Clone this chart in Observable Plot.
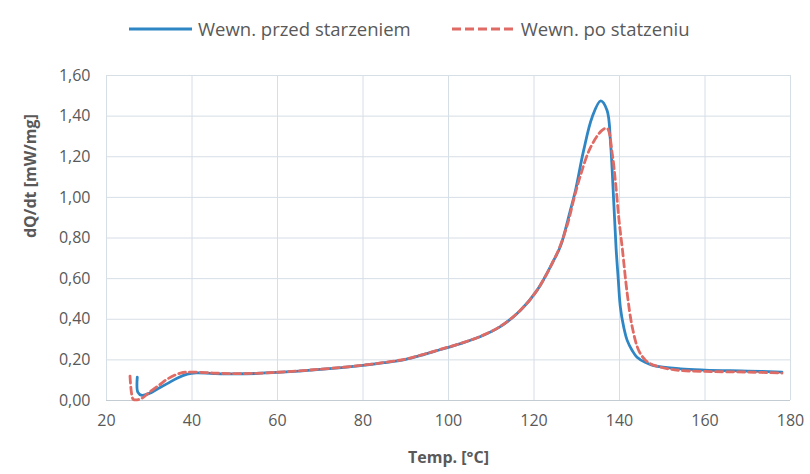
<!DOCTYPE html>
<html>
<head>
<meta charset="utf-8">
<script src="https://cdn.jsdelivr.net/npm/d3@7"></script>
<script src="https://cdn.jsdelivr.net/npm/@observablehq/plot@0.6"></script>
<style>
  html, body { margin: 0; padding: 0; background: #fff; }
  #wrap { width: 810px; font-family: "Open Sans", sans-serif; color: #595959; }
  #legend { height: 55px; display: flex; align-items: center; padding-left: 128px; padding-top: 2px; font-size: 18.5px; box-sizing: border-box; }
  .item { display: flex; align-items: center; gap: 5px; margin-right: 40px; }
</style>
</head>
<body>
<div id="wrap">
  <div id="legend"></div>
  <div id="chart"></div>
</div>
<script>
const seriesNames = ["Wewn. przed starzeniem", "Wewn. po statzeniu"];
const seriesColors = ["#2f86c4", "#df6b64"];
const xTicks = [20, 40, 60, 80, 100, 120, 140, 160, 180];
const yTicks = [0, 0.2, 0.4, 0.6, 0.8, 1.0, 1.2, 1.4, 1.6];

const tempBlue = [27.2, 27.35, 28.3, 30, 32, 34.2, 36.5, 38.9, 41, 45, 50, 55, 60, 65, 70, 75, 80, 85, 90, 93.5, 98, 102.8, 107.5, 112.2, 116.8, 120.7, 124.6, 126.2, 128.5, 129.7, 131.6, 133.6, 135.6, 137.1, 137.9, 138.6, 139.2, 139.7, 140.2, 141, 141.8, 143, 144.1, 146, 148, 154.3, 160, 170, 178];
const valueBlue = [0.115, 0.04, 0.025, 0.035, 0.058, 0.083, 0.11, 0.13, 0.136, 0.133, 0.131, 0.133, 0.138, 0.145, 0.153, 0.162, 0.173, 0.186, 0.203, 0.222, 0.25, 0.28, 0.315, 0.365, 0.443, 0.542, 0.69, 0.76, 0.936, 1.034, 1.23, 1.395, 1.475, 1.428, 1.27, 1.0, 0.75, 0.6, 0.46, 0.36, 0.296, 0.245, 0.213, 0.188, 0.172, 0.156, 0.15, 0.145, 0.14];

const tempRed = [25.5, 25.9, 26.3, 28, 30, 32.6, 34.2, 37.3, 40, 45, 50, 55, 60, 65, 70, 75, 80, 85, 90, 93.5, 98, 102.8, 107.5, 112.2, 116.8, 120.7, 124.6, 126.2, 128, 129.3, 130.9, 133.2, 135.9, 137.1, 138.3, 139.1, 139.9, 140.7, 141.8, 143, 144.5, 146, 147.3, 151.1, 154.3, 160, 170, 178];
const valueRed = [0.12, 0.03, 0.005, 0.008, 0.04, 0.08, 0.105, 0.135, 0.14, 0.135, 0.132, 0.134, 0.139, 0.146, 0.154, 0.163, 0.174, 0.187, 0.204, 0.223, 0.251, 0.281, 0.316, 0.366, 0.444, 0.542, 0.69, 0.765, 0.88, 0.99, 1.11, 1.245, 1.33, 1.34, 1.215, 1.067, 0.886, 0.74, 0.527, 0.36, 0.246, 0.2, 0.18, 0.157, 0.148, 0.143, 0.14, 0.135];

const blue = tempBlue.map((t, i) => ({t, v: valueBlue[i]}));
const red = tempRed.map((t, i) => ({t, v: valueRed[i]}));

// legend
const legend = document.getElementById("legend");
seriesNames.forEach((name, i) => {
  const item = document.createElement("div");
  item.className = "item";
  const dash = i === 1 ? 'stroke-dasharray="9,4"' : '';
  item.innerHTML = `<svg width="65" height="10"><line x1="1" y1="5" x2="64" y2="5" stroke="${seriesColors[i]}" stroke-width="3" ${dash}/></svg><span>${name}</span>`;
  legend.appendChild(item);
});

const fmt = d => d.toFixed(2).replace(".", ",");

const chart = Plot.plot({
  width: 810,
  height: 419,
  marginTop: 20,
  marginBottom: 74,
  marginLeft: 106,
  marginRight: 20,
  style: { fontFamily: "Open Sans, sans-serif", fontSize: "16px", color: "#595959", background: "#fff" },
  x: { domain: [20, 180], ticks: xTicks, label: null },
  y: { domain: [0, 1.6], ticks: yTicks, label: null },
  marks: [
    Plot.gridX(xTicks, { stroke: "#d6dee6", strokeOpacity: 1 }),
    Plot.gridY(yTicks, { stroke: "#d6dee6", strokeOpacity: 1 }),
    Plot.ruleY([0], { stroke: "#c3cbd3" }),
    Plot.line(blue, { x: "t", y: "v", stroke: seriesColors[0], strokeWidth: 2.8, curve: "catmull-rom" }),
    Plot.line(red, { x: "t", y: "v", stroke: seriesColors[1], strokeWidth: 2.8, strokeDasharray: "7,4", curve: "catmull-rom" }),
    Plot.axisX(xTicks, { tickSize: 0, tickPadding: 14, tickFormat: d => String(d), label: null }),
    Plot.axisY(yTicks, { tickSize: 0, tickPadding: 16, tickFormat: fmt, label: null }),
    Plot.text(["dQ/dt [mW/mg]"], { frameAnchor: "left", dx: -76, rotate: -90, text: d => d, fontSize: 16, fontWeight: "bold", fill: "#595959" }),
    Plot.text(["Temp. [°C]"], { frameAnchor: "bottom", dy: 62, text: d => d, fontSize: 16, fontWeight: "bold", fill: "#595959" })
  ]
});
document.getElementById("chart").appendChild(chart);
</script>
</body>
</html>
